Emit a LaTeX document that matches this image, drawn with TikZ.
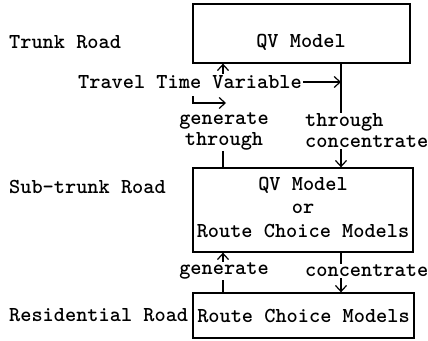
\documentclass[tikz,border=0pt]{standalone}
\usetikzlibrary{arrows.meta}
\begin{document}
\begin{tikzpicture}[x=1pt,y=-1pt,
  lbl/.style={font=\ttfamily\bfseries\fontsize{21.3pt}{23.5pt}\selectfont, inner sep=1pt},
  twoline/.style={font=\ttfamily\bfseries\fontsize{21.3pt}{21pt}\selectfont},
  box/.style={draw, line width=1.3pt, rectangle, inner sep=1pt},
  link/.style={line width=1.2pt},
  arr/.style={link, -{Straight Barb[length=6pt,width=11pt,line width=1.2pt]}}]
\useasboundingbox (0,0) rectangle (428,340);

% model boxes
\node[box, minimum width=217pt, minimum height=59pt] (qv1) at (301.5,33.5) {};
\node[lbl] (qv1lbl) at (301,42) {QV Model};
\node[box, lbl, align=center, text depth=6pt,
      minimum width=220pt, minimum height=84pt] (b2) at (303,210)
      {QV Model\\or\\Route Choice Models};
\node[box, lbl, minimum width=221pt, minimum height=45pt] (b3) at (303.5,315.5)
      {Route Choice Models};

% road levels
\node[lbl, anchor=west] (trunk) at (8,42) {Trunk Road};
\node[lbl, anchor=west] (sub) at (8,187) {Sub-trunk Road};
\node[lbl, anchor=west] (res) at (8,315) {Residential Road};

% flow labels
\node[lbl, anchor=west] (ttv) at (77,82) {Travel Time Variable};
\node[lbl, twoline, align=center] (gt) at (224,131) {generate\\through};
\node[lbl, twoline, align=left, anchor=west] (tc) at (304,131) {through\\concentrate};
\node[lbl] (gen) at (224,271) {generate};
\node[lbl, anchor=west] (conc) at (304,271) {concentrate};

% connector columns
\coordinate (xl) at (223,0);
\coordinate (xr) at (341,0);
\coordinate (hs) at (193,96);
\coordinate (he) at (226,103);

% upper level links
\draw[arr] (ttv.north -| xl) -- (qv1.south -| xl);
\draw[arr] (ttv.east) -- (ttv.east -| xr);
\draw[link] (qv1.south -| xr) -- (tc.north -| xr);
\draw[arr] (hs) |- (he);
\draw[link] (gt.south -| xl) -- (b2.north -| xl);
\draw[arr] (tc.south -| xr) -- (b2.north -| xr);

% lower level links
\draw[link] (b3.north -| xl) -- (gen.south -| xl);
\draw[arr] (gen.north -| xl) -- (b2.south -| xl);
\draw[link] (b2.south -| xr) -- (conc.north -| xr);
\draw[arr] (conc.south -| xr) -- (b3.north -| xr);
\end{tikzpicture}
\end{document}
